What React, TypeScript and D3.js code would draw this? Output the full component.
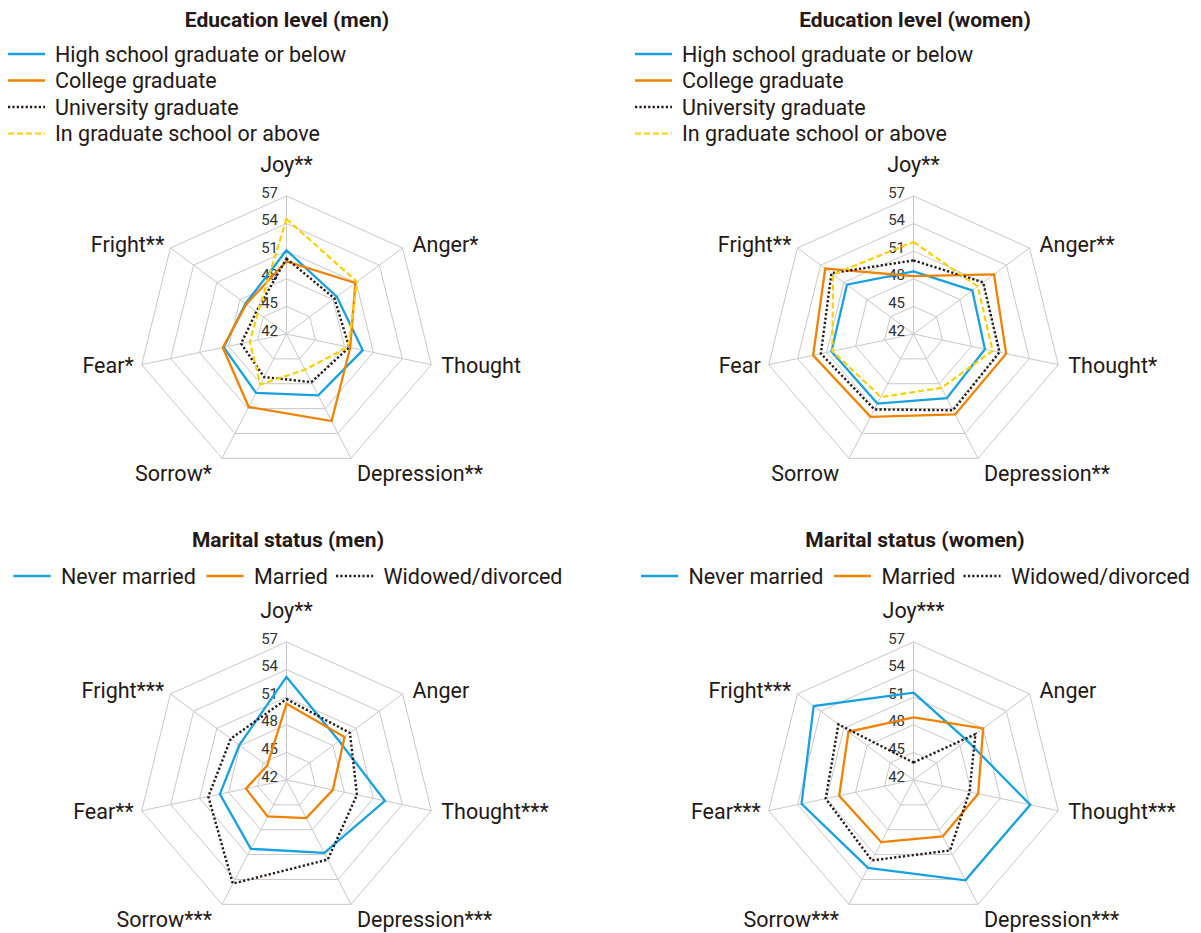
import React from "react";
import * as d3 from "d3";

// ---------- data ----------
const ticks = [42, 45, 48, 51, 54, 57];

const eduMenAxes = ["Joy**", "Anger*", "Thought", "Depression**", "Sorrow*", "Fear*", "Fright**"];
const eduWomenAxes = ["Joy**", "Anger**", "Thought*", "Depression**", "Sorrow", "Fear", "Fright**"];
const marMenAxes = ["Joy**", "Anger", "Thought***", "Depression***", "Sorrow***", "Fear**", "Fright***"];
const marWomenAxes = ["Joy***", "Anger", "Thought***", "Depression***", "Sorrow***", "Fear***", "Fright***"];

const eduSeriesNames = [
  "High school graduate or below",
  "College graduate",
  "University graduate",
  "In graduate school or above",
];
const marSeriesNames = ["Never married", "Married", "Widowed/divorced"];

// order: Joy, Anger, Thought, Depression, Sorrow, Fear, Fright
const eduMenHighSchool = [51.1, 48.5, 49.9, 49.4, 49.1, 48.5, 47.3];
const eduMenCollege = [49.9, 50.9, 48.6, 52.5, 50.8, 48.6, 47.2];
const eduMenUniversity = [50.2, 48.2, 48.5, 47.8, 47.2, 46.7, 45.9];
const eduMenGraduate = [54.5, 51.1, 48.4, 46.3, 48.1, 45.8, 45.7];

const eduWomenHighSchool = [48.8, 49.6, 49.4, 49.75, 50.4, 50.5, 50.6];
const eduWomenCollege = [48.3, 52.4, 51.6, 51.7, 52.0, 52.4, 53.4];
const eduWomenUniversity = [50.0, 51.0, 50.9, 51.2, 51.1, 51.6, 52.6];
const eduWomenGraduate = [52.0, 50.3, 50.2, 48.5, 49.6, 50.4, 52.4];

const marMenNever = [53.2, 48.8, 52.2, 50.8, 50.3, 48.9, 48.1];
const marMenMarried = [50.3, 49.5, 46.8, 46.6, 46.4, 46.2, 44.5];
const marMenWidowed = [50.8, 50.2, 49.3, 51.6, 54.5, 50.1, 49.2];

const marWomenNever = [51.5, 48.9, 54.1, 54.1, 52.6, 53.6, 54.9];
const marWomenMarried = [48.8, 51.0, 48.7, 48.8, 49.5, 49.7, 50.4];
const marWomenWidowed = [43.9, 50.0, 47.8, 50.5, 51.7, 51.1, 51.7];

// ---------- styles ----------
const BLUE = "#17a1e0";
const ORANGE = "#ef8200";
const DARK = "#231815";
const YELLOW = "#fcd000";
const GRID = "#c8c8c8";
const TEXT = "#231815";
const FONT = "Roboto, 'Noto Sans', sans-serif";

type Style = { color: string; dash?: string; width: number };
const eduStyles: Style[] = [
  { color: BLUE, width: 2.3 },
  { color: ORANGE, width: 2.3 },
  { color: DARK, dash: "2.2 2.2", width: 2.4 },
  { color: YELLOW, dash: "6 3", width: 2.2 },
];
const marStyles: Style[] = [
  { color: BLUE, width: 2.3 },
  { color: ORANGE, width: 2.3 },
  { color: DARK, dash: "2.2 2.2", width: 2.4 },
];

const RX = 148.5;
const RY = 138;
const N = 7;

const rScale = d3.scaleLinear().domain([42, 57]).range([0, 1]);

function pt(cx: number, cy: number, i: number, v: number): [number, number] {
  const a = (i * 2 * Math.PI) / N;
  const r = rScale(v);
  return [cx + RX * r * Math.sin(a), cy - RY * r * Math.cos(a)];
}

const lineGen = d3.line<[number, number]>().curve(d3.curveLinearClosed);

function Radar({ cx, cy, axes, series, styles }: { cx: number; cy: number; axes: string[]; series: number[][]; styles: Style[] }) {
  const idx = d3.range(N);
  return (
    <g>
      {ticks.slice(1).map((t) => (
        <path key={"g" + t} d={lineGen(idx.map((i) => pt(cx, cy, i, t))) || ""} fill="none" stroke={GRID} strokeWidth={1} />
      ))}
      {idx.map((i) => {
        const [x, y] = pt(cx, cy, i, 57);
        return <line key={"s" + i} x1={cx} y1={cy} x2={x} y2={y} stroke={GRID} strokeWidth={1} />;
      })}
      {ticks.map((t) => {
        const [, y] = pt(cx, cy, 0, t);
        return (
          <text key={"t" + t} x={cx - 8.5} y={y + 1.5} textAnchor="end" fontSize={15} fill="#333" fontFamily={FONT}>
            {t}
          </text>
        );
      })}
      {series.map((s, si) => (
        <path
          key={"p" + si}
          d={lineGen(s.map((v, i) => pt(cx, cy, i, v))) || ""}
          fill="none"
          stroke={styles[si].color}
          strokeWidth={styles[si].width}
          strokeDasharray={styles[si].dash}
          strokeLinejoin="miter"
        />
      ))}
      {axes.map((lab, i) => {
        const [x, y] = pt(cx, cy, i, 57);
        let tx = x, ty = y, anchor: "start" | "middle" | "end" = "middle";
        if (i === 0) { ty = y - 24; }
        else if (i === 1) { tx = x + 10; ty = y + 4.5; anchor = "start"; }
        else if (i === 2) { tx = x + 10; ty = y + 8; anchor = "start"; }
        else if (i === 3) { tx = x + 6; ty = y + 23; anchor = "start"; }
        else if (i === 4) { tx = x - 10; ty = y + 23; anchor = "end"; }
        else if (i === 5) { tx = x - 8; ty = y + 8; anchor = "end"; }
        else { tx = x - 6; ty = y + 4.5; anchor = "end"; }
        return (
          <text key={"a" + i} x={tx} y={ty} textAnchor={anchor} fontSize={21.5} fill={TEXT} fontFamily={FONT}>
            {lab}
          </text>
        );
      })}
    </g>
  );
}

function LegendSample({ x, y, st }: { x: number; y: number; st: Style }) {
  return <line x1={x} x2={x + 37} y1={y} y2={y} stroke={st.color} strokeWidth={st.width} strokeDasharray={st.dash} />;
}

function VLegend({ x, y, names, styles }: { x: number; y: number; names: string[]; styles: Style[] }) {
  return (
    <g>
      {names.map((n, i) => (
        <g key={n}>
          <LegendSample x={x} y={y + i * 26.5} st={styles[i]} />
          <text x={x + 47} y={y + i * 26.5 + 7.5} fontSize={21.5} fill={TEXT} fontFamily={FONT}>
            {n}
          </text>
        </g>
      ))}
    </g>
  );
}

const hOffsets = [0, 193, 322.5];
function HLegend({ x, y, names, styles }: { x: number; y: number; names: string[]; styles: Style[] }) {
  return (
    <g>
      {names.map((n, i) => (
        <g key={n}>
          <LegendSample x={x + hOffsets[i]} y={y} st={styles[i]} />
          <text x={x + hOffsets[i] + 47.5} y={y + 7.5} fontSize={21.5} fill={TEXT} fontFamily={FONT}>
            {n}
          </text>
        </g>
      ))}
    </g>
  );
}

function Title({ x, y, text }: { x: number; y: number; text: string }) {
  return (
    <text x={x} y={y} textAnchor="middle" fontSize={21} fontWeight={700} fill={TEXT} fontFamily={FONT}>
      {text}
    </text>
  );
}

export default function App() {
  return (
    <svg width={1201} height={933} style={{ position: "absolute", left: 0, top: 0, background: "#fff" }}>
      <rect width={1201} height={933} fill="#fff" />
      <Title x={287} y={27} text="Education level (men)" />
      <Title x={915} y={27} text="Education level (women)" />
      <Title x={288} y={547} text="Marital status (men)" />
      <Title x={915} y={547} text="Marital status (women)" />

      <VLegend x={8} y={54} names={eduSeriesNames} styles={eduStyles} />
      <VLegend x={635} y={54} names={eduSeriesNames} styles={eduStyles} />
      <HLegend x={13.5} y={576} names={marSeriesNames} styles={marStyles} />
      <HLegend x={641} y={576} names={marSeriesNames} styles={marStyles} />

      <Radar cx={286.5} cy={334} axes={eduMenAxes} series={[eduMenHighSchool, eduMenCollege, eduMenUniversity, eduMenGraduate]} styles={eduStyles} />
      <Radar cx={913.5} cy={334} axes={eduWomenAxes} series={[eduWomenHighSchool, eduWomenCollege, eduWomenUniversity, eduWomenGraduate]} styles={eduStyles} />
      <Radar cx={286.5} cy={780} axes={marMenAxes} series={[marMenNever, marMenMarried, marMenWidowed]} styles={marStyles} />
      <Radar cx={913.5} cy={780} axes={marWomenAxes} series={[marWomenNever, marWomenMarried, marWomenWidowed]} styles={marStyles} />
    </svg>
  );
}
